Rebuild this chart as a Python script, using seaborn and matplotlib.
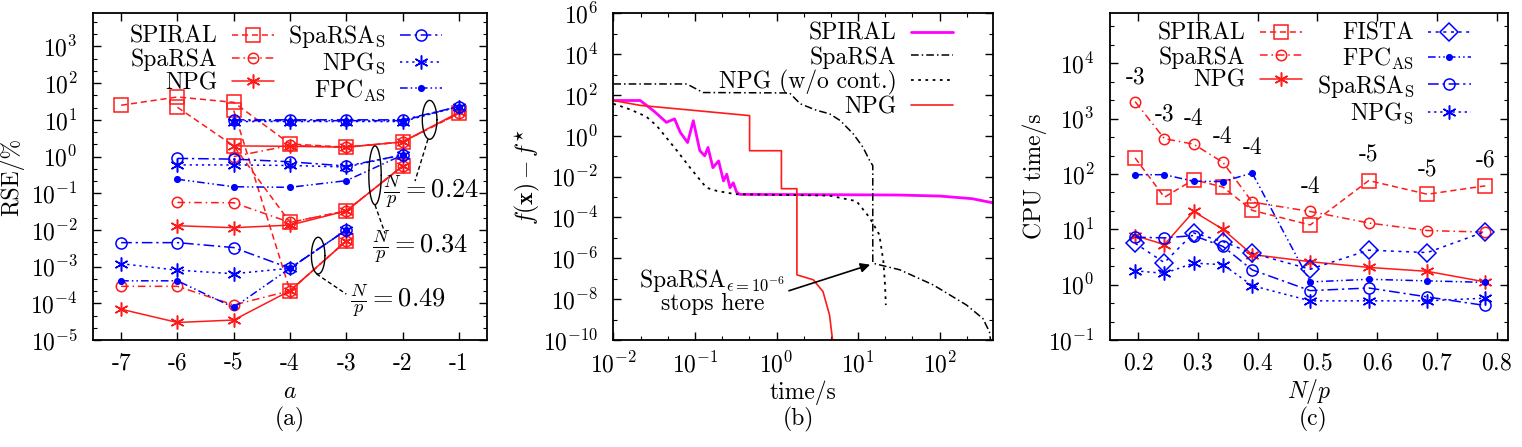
import numpy as np
import pandas as pd
import seaborn as sns
import matplotlib.pyplot as plt
from matplotlib.lines import Line2D
from matplotlib.ticker import LogLocator, FixedLocator, NullFormatter, LogFormatterSciNotation, MultipleLocator

nan = np.nan

# ---------------- panel (a): RSE vs a, three N/p groups ----------------
a_vals = [-7, -6, -5, -4, -3, -2, -1]
np_groups = ["0.24", "0.34", "0.49"]
rse_spiral = [[25, 42, 30, 2.2, 1.8, 2.5, 15],
              [nan, 22, 1.95, 0.016, 0.033, 0.55, nan],
              [nan, nan, 18, 2.2e-4, 5e-3, nan, nan]]
rse_sparsa = [[nan, nan, 1.0, 2.0, 1.8, 2.5, 15],
              [nan, 0.056, 0.055, 0.016, 0.033, 0.55, nan],
              [2.9e-4, 2.9e-4, 9e-5, 2.2e-4, 5e-3, nan, nan]]
rse_npg = [[nan, nan, 1.95, 1.9, 1.8, 2.5, 16],
           [nan, 0.013, 0.0115, 0.0135, 0.033, 0.55, nan],
           [6.9e-5, 3e-5, 3.5e-5, 2.2e-4, 5e-3, nan, nan]]
rse_sparsa_s = [[nan, nan, 10, 10, 10, 10, 23],
                [nan, 0.89, 0.85, 0.72, 0.55, 1.1, nan],
                [4.5e-3, 4.5e-3, 3.3e-3, 9e-4, 0.01, nan, nan]]
rse_npg_s = [[nan, nan, 9, 9, 9, 9, 23],
             [nan, 0.59, 0.59, 0.57, 0.52, 1.1, nan],
             [1.2e-3, 8e-4, 6.4e-4, 9e-4, 0.01, nan, nan]]
rse_fpc = [[nan, nan, 9.5, 9.5, 9.5, 9.5, 23],
           [nan, 0.24, 0.15, 0.145, 0.22, 1.1, nan],
           [4.1e-4, 4.1e-4, 7.7e-5, 9e-4, 0.01, nan, nan]]

# ---------------- panel (b): objective gap vs time (log10 values) ----------------
spiral_logt = [-2, -1.67, -1.5, -1.35, -1.25, -1.18, -1.09, -1.02, -0.94, -0.88, -0.84, -0.78,
               -0.71, -0.65, -0.61, -0.57, -0.53, -0.49, -0.45, 0.5, 1.5, 2.0, 2.4, 2.65]
spiral_logf = [1.73, 1.73, 1.2, 0.66, 0.83, 0.17, -0.33, 0.74, -0.73, -0.98, -0.57, -1.56,
               -1.23, -2.21, -1.88, -2.54, -2.3, -2.75, -2.87, -2.88, -2.9, -2.95, -3.08, -3.28]
sparsa_logt = [-2, -1.1, -0.9, 0.16, 0.29, 0.49, 0.65, 0.78, 0.94, 1.06, 1.14, 1.18, 1.18,
               1.51, 1.92, 2.33, 2.53, 2.61, 2.63]
sparsa_logf = [2.54, 2.54, 2.12, 2.1, 1.57, 1.25, 1.08, 0.75, 0.1, -0.56, -1.2, -1.46, -6.24,
               -6.56, -7.3, -8.29, -8.95, -9.6, -10.2]
npgnc_logt = [-2, -1.8, -1.6, -1.47, -1.22, -1.06, -0.86, -0.73, -0.5, 0.65, 0.98, 1.14, 1.26,
              1.31, 1.33, 1.34]
npgnc_logf = [1.57, 1.3, 0.95, 0.5, -0.73, -1.56, -2.54, -2.7, -2.86, -2.93, -3.2, -4.0, -4.84,
              -6.15, -7.28, -8.29]
npg_logt = [-2, -1.67, -0.33, -0.33, 0.06, 0.06, 0.25, 0.25, 0.45, 0.57, 0.65, 0.69]
npg_logf = [1.73, 1.49, 0.99, -0.73, -0.73, -2.59, -2.59, -6.81, -7.05, -7.63, -8.78, -10.1]

# ---------------- panel (c): CPU time vs N/p ----------------
ratio = [0.195, 0.244, 0.293, 0.342, 0.391, 0.488, 0.586, 0.684, 0.781]
t_spiral = [195, 38, 79, 58, 22, 12, 76, 43, 61]
t_sparsa = [2030, 435, 345, 162, 31, 21, 13, 9.5, 8.9]
t_npg = [7.7, 5.3, 21, 10, 3.5, 2.6, 2.05, 1.74, 1.12]
t_fista = [5.6, 2.5, 8.6, 6.0, 3.7, 1.9, 4.2, 3.8, 9.1]
t_fpc = [97, 97, 74, 73, 104, 1.12, 1.25, 1.17, 1.1]
t_sparsa_s = [7.2, 7.0, 7.7, 4.9, 1.85, 0.78, 0.87, 0.6, 0.42]
t_npg_s = [1.78, 1.6, 2.45, 2.3, 0.96, 0.51, 0.51, 0.51, 0.57]
a_labels = ["-3", "-3", "-4", "-4", "-4", "-4", "-5", "-5", "-6"]
a_label_y = [5600, 1200, 980, 460, 300, 58, 215, 115, 175]

sns.set_style("ticks")
plt.rcParams.update({
    "font.family": ["cmr10", "DejaVu Serif"],
    "mathtext.fontset": "cm",
    "axes.unicode_minus": False,
    "axes.formatter.use_mathtext": True,
    "font.size": 17,
    "axes.linewidth": 1.3,
    "axes.edgecolor": "black",
    "text.color": "black",
    "axes.labelcolor": "black",
    "xtick.color": "black",
    "ytick.color": "black",
})

RED = "#ff1a1a"
BLUE = "#0000ff"
LS_SPIRAL = (0, (4, 2.5))
LS_SPARSA = (0, (5, 2.5, 1, 2.5))
LS_SPARSA_S = (0, (7, 2.5, 1.5, 2.5))
LS_NPG_S = (0, (1.5, 2.5))
LS_FPC = (0, (5, 2, 1, 2, 1, 2))
LS_FISTA = (0, (2, 3))


def draw(ax, x, y, color, ls, marker=None, ms=9, filled=False, lw=1.1):
    df = pd.DataFrame({"x": x, "y": y}).dropna()
    sns.lineplot(data=df, x="x", y="y", ax=ax, color=color, linestyle=ls, marker=marker,
                 markersize=ms, markerfacecolor=color if filled else "none",
                 markeredgecolor=color, markeredgewidth=1.1, linewidth=lw,
                 estimator=None, sort=False, legend=False)
    return ax.lines[-1]


def style_axes(ax):
    ax.tick_params(which="both", direction="in", top=True, right=True, labelsize=17)
    ax.tick_params(which="major", length=6, width=1.0)
    ax.tick_params(which="minor", length=3, width=0.8)
    ax.tick_params(axis="y", pad=11)
    ax.tick_params(axis="x", pad=9)
    for s in ax.spines.values():
        s.set_linewidth(1.3)


fig = plt.figure(figsize=(15.22, 4.47), dpi=100)
bot, hgt = 0.2394, 0.7308
ax_a = fig.add_axes([0.0611, bot, 0.2589, hgt])
ax_b = fig.add_axes([0.4030, bot, 0.2494, hgt])
ax_c = fig.add_axes([0.7293, bot, 0.2615, hgt])

# ---- (a)
series_a = [
    ("SPIRAL", rse_spiral, RED, LS_SPIRAL, "s", 9.5, False),
    ("SpaRSA", rse_sparsa, RED, LS_SPARSA, "o", 7.5, False),
    ("NPG", rse_npg, RED, "-", (6, 2, 0), 10, False),
    (r"SpaRSA$_\mathrm{S}$", rse_sparsa_s, BLUE, LS_SPARSA_S, "o", 8, False),
    (r"NPG$_\mathrm{S}$", rse_npg_s, BLUE, LS_NPG_S, (6, 2, 0), 10, False),
    (r"FPC$_\mathrm{AS}$", rse_fpc, BLUE, LS_FPC, "o", 4, True),
]
handles_a = []
for name, groups, col, ls, mk, ms, fill in series_a:
    for g in groups:
        h = draw(ax_a, a_vals, g, col, ls, mk, ms, fill)
    handles_a.append(h)
ax_a.set_yscale("log")
ax_a.set_xlim(-7.5, -0.5)
ax_a.set_ylim(1e-5, 8e3)
ax_a.set_xticks(a_vals, [str(v) for v in a_vals])
ax_a.yaxis.set_major_locator(LogLocator(base=10, numticks=20))
ax_a.yaxis.set_minor_locator(LogLocator(base=10, subs=[10 ** (1 / 3), 10 ** (2 / 3)], numticks=20))
ax_a.yaxis.set_minor_formatter(NullFormatter())
ax_a.set_xlabel(r"$a$")
ax_a.set_ylabel("RSE/%")
ax_a.yaxis.set_label_coords(-0.175, 0.5)
ax_a.xaxis.set_label_coords(0.5, -0.125)
style_axes(ax_a)

# ellipses marking the N/p groups, with leader lines and labels
ell = [(-1.52, 1.0, 0.13, 0.53), (-2.49, -0.51, 0.11, 0.8), (-3.5, -2.7, 0.12, 0.5)]
leaders = [((-1.55, 0.47), (-1.78, -0.67)), ((-2.49, -1.32), (-2.31, -2.1)),
           ((-3.53, -3.2), (-3.0, -3.75))]
lab_pos = [(-2.34, -0.95), (-2.55, -2.47), (-2.94, -3.93)]
tt = np.linspace(0, 2 * np.pi, 100)
for (cx, cy, rx, ry), (p0, p1), (lx, ly), gname in zip(ell, leaders, lab_pos, np_groups):
    ax_a.plot(cx + rx * np.cos(tt), 10 ** (cy + ry * np.sin(tt)), color="black", lw=1.0)
    ax_a.plot([p0[0], p1[0]], [10 ** p0[1], 10 ** p1[1]], color="black", lw=1.0,
              linestyle=(0, (3, 2)))
    ax_a.text(lx, 10 ** ly, r"$\frac{N}{p}=%s$" % gname, ha="left", va="center", fontsize=19)

ax_a.legend(handles_a, [s[0] for s in series_a], ncol=2, markerfirst=False, frameon=False,
            loc="upper center", bbox_to_anchor=(0.49, 1.0), handlelength=1.8,
            handletextpad=0.6, columnspacing=0.6, labelspacing=0.05, fontsize=17,
            borderaxespad=0)

# ---- (b)
lines_b = [
    ("SPIRAL", spiral_logt, spiral_logf, "#ff00ff", "-", 2.0),
    ("SpaRSA", sparsa_logt, sparsa_logf, "black", (0, (5, 2, 1, 2)), 1.1),
    ("NPG (w/o cont.)", npgnc_logt, npgnc_logf, "black", (0, (1.5, 2.5)), 1.3),
    ("NPG", npg_logt, npg_logf, RED, "-", 1.2),
]
handles_b = []
for name, lt, lf, col, ls, lw in lines_b:
    h = draw(ax_b, 10 ** np.array(lt), 10 ** np.array(lf), col, ls, None, lw=lw)
    handles_b.append(h)
ax_b.set_xscale("log")
ax_b.set_yscale("log")
ax_b.set_xlim(1e-2, 450)
ax_b.set_ylim(1e-10, 1e6)
ax_b.yaxis.set_major_locator(FixedLocator([10.0 ** k for k in range(-10, 7, 2)]))
ax_b.yaxis.set_major_formatter(LogFormatterSciNotation())
ax_b.yaxis.set_minor_locator(FixedLocator([10.0 ** k for k in range(-9, 6, 2)]))
ax_b.yaxis.set_minor_formatter(NullFormatter())
ax_b.xaxis.set_major_locator(LogLocator(base=10, numticks=20))
ax_b.xaxis.set_minor_locator(LogLocator(base=10, subs=[10 ** (1 / 3), 10 ** (2 / 3)], numticks=20))
ax_b.xaxis.set_minor_formatter(NullFormatter())
ax_b.set_xlabel("time/s")
ax_b.set_ylabel(r"$f(\mathbf{x})-f^{\star}$")
ax_b.yaxis.set_label_coords(-0.188, 0.5)
ax_b.xaxis.set_label_coords(0.5, -0.125)
style_axes(ax_b)
ax_b.annotate("", xy=(10 ** 1.18, 10 ** -6.27), xytext=(10 ** 0.12, 10 ** -7.63),
              arrowprops=dict(arrowstyle="-|>", color="black", lw=1.2, mutation_scale=14))
ax_b.text(10 ** -0.785, 10 ** -7.6, "SpaRSA$_{\\epsilon=10^{-6}}$\nstops here", ha="center",
          va="center", multialignment="center", fontsize=17, linespacing=0.95)
ax_b.legend(handles_b, [l[0] for l in lines_b], markerfirst=False, frameon=False,
            loc="upper right", bbox_to_anchor=(0.92, 1.0), handlelength=1.8,
            handletextpad=0.6, labelspacing=0.05, fontsize=17, borderaxespad=0)

# ---- (c)
series_c = [
    ("SPIRAL", t_spiral, RED, LS_SPIRAL, "s", 9.5, False),
    ("SpaRSA", t_sparsa, RED, LS_SPARSA, "o", 7.5, False),
    ("NPG", t_npg, RED, "-", (6, 2, 0), 10, False),
    ("FISTA", t_fista, BLUE, LS_FISTA, "D", 9.5, False),
    (r"FPC$_\mathrm{AS}$", t_fpc, BLUE, LS_FPC, "o", 4, True),
    (r"SpaRSA$_\mathrm{S}$", t_sparsa_s, BLUE, LS_SPARSA_S, "o", 8, False),
    (r"NPG$_\mathrm{S}$", t_npg_s, BLUE, LS_NPG_S, (6, 2, 0), 10, False),
]
handles_c = []
for name, vals, col, ls, mk, ms, fill in series_c:
    handles_c.append(draw(ax_c, ratio, vals, col, ls, mk, ms, fill))
for xv, lab, yv in zip(ratio, a_labels, a_label_y):
    ax_c.text(xv, yv, lab, ha="center", va="center", fontsize=17)
ax_c.set_yscale("log")
ax_c.set_xlim(0.153, 0.819)
ax_c.set_ylim(0.1, 8e4)
ax_c.xaxis.set_major_locator(MultipleLocator(0.1))
ax_c.yaxis.set_major_locator(LogLocator(base=10, numticks=20))
ax_c.yaxis.set_minor_locator(LogLocator(base=10, subs=[10 ** (1 / 3), 10 ** (2 / 3)], numticks=20))
ax_c.yaxis.set_minor_formatter(NullFormatter())
ax_c.set_xlabel(r"$N/p$")
ax_c.set_ylabel("CPU time/s")
ax_c.yaxis.set_label_coords(-0.158, 0.5)
ax_c.xaxis.set_label_coords(0.5, -0.112)
style_axes(ax_c)
blank = Line2D([], [], linestyle="none")
hc = handles_c[:3] + [blank] + handles_c[3:]
lc = [s[0] for s in series_c[:3]] + [""] + [s[0] for s in series_c[3:]]
ax_c.legend(hc, lc, ncol=2, markerfirst=False, frameon=False, loc="upper right",
            bbox_to_anchor=(0.93, 1.0), handlelength=1.8, handletextpad=0.6,
            columnspacing=0.6, labelspacing=0.05, fontsize=17, borderaxespad=0)

for xc, cap in [(290, "(a)"), (798, "(b)"), (1313, "(c)")]:
    fig.text(xc / 1522, 1 - 419 / 447, cap, ha="center", va="center", fontsize=17)

fig.savefig("out.png", dpi=100)
